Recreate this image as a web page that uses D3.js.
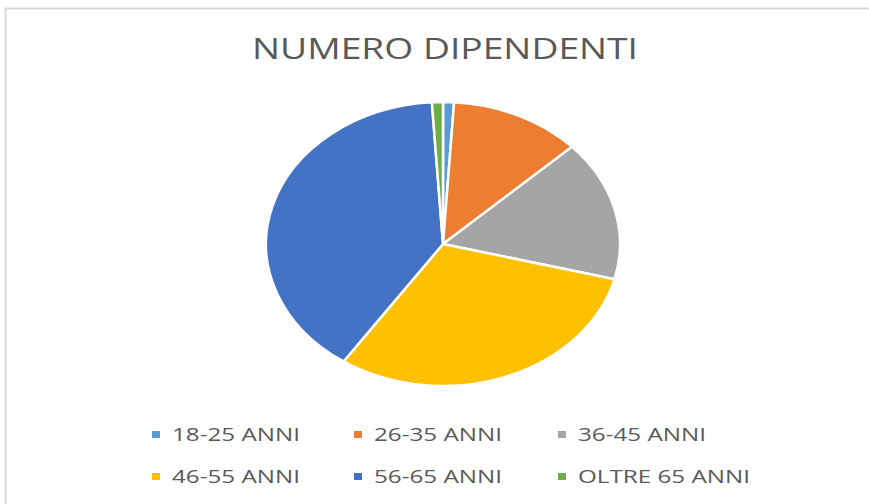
<!DOCTYPE html>
<html>
<head>
<meta charset="utf-8">
<script src="https://cdn.jsdelivr.net/npm/d3@7"></script>
<style>
html, body { margin: 0; padding: 0; background: #ffffff; }
svg { display: block; }
</style>
</head>
<body>
<svg id="chart" width="869" height="504"></svg>
<script>
const title = "NUMERO DIPENDENTI";
const categories = ["18-25 ANNI", "26-35 ANNI", "36-45 ANNI", "46-55 ANNI", "56-65 ANNI", "OLTRE 65 ANNI"];
const values = [1, 12, 16, 30.5, 39.5, 1];
const colors = ["#5B9BD5", "#ED7D31", "#A5A5A5", "#FFC000", "#4472C4", "#70AD47"];

const svg = d3.select("#chart");
const W = 869, H = 504;

// chart frame
svg.append("rect")
  .attr("x", 5.5).attr("y", 8.5)
  .attr("width", 870).attr("height", 510)
  .attr("fill", "#ffffff")
  .attr("stroke", "#d9d9d9")
  .attr("stroke-width", 2);

// title
const t = svg.append("text")
  .attr("x", 445).attr("y", 59)
  .attr("text-anchor", "middle")
  .attr("font-family", "'Open Sans', sans-serif")
  .attr("font-weight", 400)
  .attr("font-size", 29)
  .attr("fill", "#595959")
  .text(title);
t.attr("textLength", 386).attr("lengthAdjust", "spacingAndGlyphs");

// pie (elliptical, as in the reference)
const cx = 443, cy = 244, rx = 177, ry = 142;
const pie = d3.pie().sort(null).value(d => d.v);
const arc = d3.arc().innerRadius(0).outerRadius(ry);
const data = categories.map((c, i) => ({ c, v: values[i], col: colors[i] }));
const g = svg.append("g").attr("transform", `translate(${cx},${cy}) scale(${rx / ry},1)`);
g.selectAll("path")
  .data(pie(data))
  .join("path")
  .attr("d", arc)
  .attr("fill", d => d.data.col)
  .attr("stroke", "#ffffff")
  .attr("stroke-width", 2.5)
  .attr("vector-effect", "non-scaling-stroke")
  .attr("stroke-linejoin", "round");

// legend
const colX = [152, 354, 558];
const rowY = [441, 483];
const leg = svg.append("g");
data.forEach((d, i) => {
  const col = i % 3, row = Math.floor(i / 3);
  const x = colX[col], y = rowY[row];
  leg.append("rect")
    .attr("x", x).attr("y", y - 10)
    .attr("width", 8).attr("height", 7)
    .attr("fill", d.col);
  leg.append("text")
    .attr("class", "lt")
    .attr("x", x + 20).attr("y", y)
    .attr("font-family", "'Open Sans', sans-serif")
    .attr("font-size", 19)
    .attr("fill", "#595959")
    .text(d.c);
});
// normalize legend width to the reference's narrow face
const texts = leg.selectAll("text.lt").nodes();
const ref = texts[0].getComputedTextLength();
const k = 128 / ref;
texts.forEach(n => {
  const w = n.getComputedTextLength();
  d3.select(n).attr("textLength", w * k).attr("lengthAdjust", "spacingAndGlyphs");
});
</script>
</body>
</html>
